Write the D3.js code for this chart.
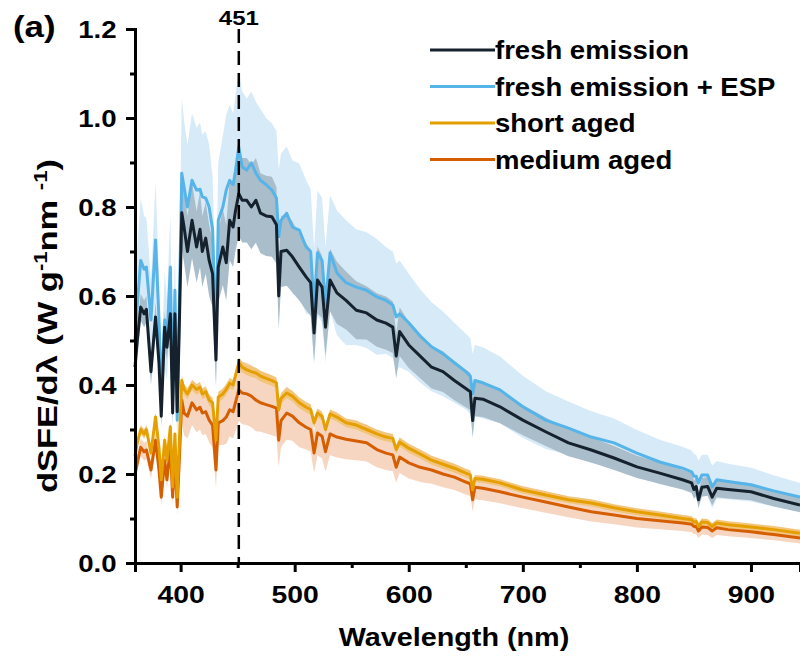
<!DOCTYPE html>
<html>
<head>
<meta charset="utf-8">
<script src="https://cdn.jsdelivr.net/npm/d3@7"></script>
<style>
  body { margin: 0; background: #fff; }
  svg text { font-family: "Liberation Sans", Arial, sans-serif; font-weight: bold; fill: #000; }
</style>
</head>
<body>
<div id="chart"></div>
<script>
// wavelength grid (nm)
var wavelengths = [360,362,365,368,370,374,378,381,383,386,388,391,393,395,397,399,401,403,406,410,
    414,417,419,422,425,428,431,433,437,440,443,446,448,451,454,458,462,466,470,475,
    480,484,486,488,493,498,504,510,514,517,520,524,527,531,537,545,554,563,572,580,
    586,589,592,600,610,620,630,640,650,654,656,658,665,680,700,720,740,760,780,800,
    820,840,848,850,852,854,857,862,866,870,880,900,920,943];

// fresh emission
var freshMean = [0.44,0.50,0.575,0.56,0.57,0.43,0.553,0.45,0.33,0.53,
    0.485,0.56,0.337,0.56,0.34,0.55,0.787,0.755,0.70,0.77,
    0.71,0.75,0.70,0.73,0.68,0.65,0.456,0.665,0.71,0.675,
    0.77,0.755,0.79,0.83,0.815,0.815,0.80,0.815,0.786,0.78,
    0.778,0.76,0.60,0.70,0.703,0.688,0.665,0.643,0.63,0.517,
    0.636,0.62,0.53,0.636,0.607,0.59,0.568,0.562,0.546,0.539,
    0.53,0.465,0.52,0.49,0.465,0.44,0.43,0.41,0.392,0.385,
    0.32,0.37,0.368,0.351,0.321,0.295,0.27,0.254,0.236,0.216,
    0.202,0.187,0.18,0.165,0.172,0.142,0.17,0.172,0.148,0.168,
    0.165,0.16,0.145,0.13];
var freshSd = [0.03,0.03,0.03,0.03,0.03,0.03,0.035,0.03,0.025,0.035,
    0.03,0.035,0.025,0.035,0.025,0.04,0.08,0.08,0.08,0.085,
    0.08,0.085,0.08,0.08,0.08,0.075,0.06,0.08,0.085,0.085,
    0.09,0.09,0.09,0.095,0.095,0.095,0.095,0.095,0.09,0.09,
    0.09,0.085,0.075,0.08,0.08,0.08,0.075,0.075,0.075,0.065,
    0.075,0.07,0.065,0.07,0.07,0.065,0.065,0.06,0.06,0.06,
    0.058,0.05,0.055,0.052,0.05,0.048,0.046,0.044,0.042,0.042,
    0.038,0.04,0.04,0.037,0.034,0.032,0.03,0.028,0.027,0.025,
    0.024,0.022,0.022,0.02,0.021,0.019,0.021,0.021,0.019,0.02,
    0.02,0.019,0.018,0.016];

// fresh emission + ESP
var espMean = [0.50,0.58,0.68,0.66,0.665,0.546,0.726,0.55,0.382,0.546,
    0.50,0.665,0.366,0.613,0.321,0.60,0.876,0.845,0.80,0.86,
    0.838,0.84,0.823,0.82,0.80,0.75,0.50,0.77,0.80,0.838,
    0.86,0.85,0.88,0.935,0.89,0.883,0.899,0.876,0.86,0.85,
    0.838,0.82,0.733,0.77,0.786,0.755,0.748,0.71,0.70,0.575,
    0.697,0.68,0.58,0.697,0.652,0.63,0.62,0.613,0.598,0.59,
    0.58,0.553,0.56,0.54,0.51,0.486,0.47,0.45,0.43,0.42,
    0.38,0.41,0.405,0.389,0.351,0.321,0.303,0.283,0.27,0.247,
    0.227,0.213,0.205,0.195,0.195,0.18,0.198,0.198,0.171,0.187,
    0.183,0.176,0.162,0.148];
var espSd = [0.10,0.13,0.14,0.12,0.11,0.09,0.13,0.10,0.06,0.11,
    0.09,0.12,0.06,0.10,0.06,0.10,0.17,0.15,0.14,0.15,
    0.14,0.15,0.14,0.15,0.14,0.12,0.10,0.13,0.16,0.17,
    0.17,0.16,0.17,0.17,0.17,0.16,0.16,0.16,0.16,0.15,
    0.15,0.15,0.15,0.15,0.15,0.15,0.15,0.15,0.14,0.13,
    0.14,0.14,0.13,0.13,0.14,0.14,0.13,0.13,0.13,0.12,
    0.12,0.12,0.12,0.11,0.105,0.10,0.095,0.09,0.085,0.085,
    0.09,0.08,0.08,0.075,0.07,0.065,0.06,0.058,0.055,0.052,
    0.05,0.048,0.048,0.05,0.048,0.05,0.045,0.045,0.048,0.042,
    0.04,0.038,0.035,0.032];

// short aged
var shortMean = [0.24,0.27,0.30,0.29,0.30,0.247,0.328,0.26,0.187,0.276,
    0.231,0.306,0.171,0.29,0.148,0.28,0.41,0.39,0.38,0.40,
    0.39,0.395,0.38,0.385,0.366,0.36,0.276,0.373,0.38,0.39,
    0.404,0.40,0.42,0.45,0.44,0.434,0.43,0.427,0.42,0.415,
    0.41,0.405,0.344,0.37,0.382,0.375,0.36,0.35,0.345,0.315,
    0.337,0.33,0.30,0.335,0.328,0.315,0.31,0.30,0.29,0.283,
    0.28,0.255,0.272,0.258,0.245,0.231,0.222,0.213,0.202,0.198,
    0.164,0.19,0.188,0.18,0.164,0.153,0.142,0.135,0.124,0.115,
    0.108,0.10,0.097,0.092,0.093,0.082,0.092,0.091,0.082,0.09,
    0.086,0.081,0.075,0.067];
var shortSd = [0.01,0.01,0.01,0.01,0.01,0.01,0.01,0.01,0.01,0.01,
    0.01,0.01,0.01,0.01,0.01,0.01,0.012,0.012,0.012,0.012,
    0.012,0.012,0.012,0.012,0.012,0.012,0.012,0.012,0.012,0.012,
    0.012,0.012,0.012,0.012,0.012,0.012,0.012,0.012,0.012,0.012,
    0.012,0.012,0.012,0.012,0.012,0.012,0.012,0.012,0.012,0.012,
    0.01,0.01,0.01,0.01,0.01,0.01,0.01,0.01,0.01,0.01,
    0.01,0.01,0.01,0.01,0.01,0.01,0.01,0.01,0.01,0.01,
    0.008,0.008,0.008,0.008,0.008,0.008,0.008,0.008,0.008,0.008,
    0.008,0.008,0.008,0.008,0.008,0.008,0.008,0.008,0.008,0.008,
    0.008,0.008,0.008,0.008];

// medium aged
var mediumMean = [0.20,0.225,0.26,0.25,0.254,0.209,0.276,0.21,0.148,0.231,
    0.187,0.261,0.148,0.238,0.126,0.24,0.366,0.337,0.33,0.36,
    0.344,0.35,0.337,0.34,0.321,0.31,0.209,0.315,0.32,0.328,
    0.344,0.34,0.36,0.389,0.382,0.38,0.375,0.366,0.36,0.356,
    0.352,0.348,0.276,0.32,0.337,0.33,0.315,0.305,0.30,0.247,
    0.292,0.285,0.25,0.29,0.283,0.278,0.274,0.27,0.255,0.247,
    0.243,0.215,0.238,0.225,0.215,0.209,0.20,0.193,0.182,0.178,
    0.142,0.17,0.168,0.16,0.148,0.137,0.126,0.115,0.108,0.10,
    0.095,0.09,0.087,0.082,0.082,0.072,0.081,0.08,0.072,0.079,
    0.075,0.07,0.064,0.056];
var mediumSd = [0.02,0.02,0.02,0.02,0.02,0.02,0.02,0.02,0.02,0.02,
    0.02,0.02,0.02,0.02,0.02,0.03,0.05,0.05,0.05,0.05,
    0.05,0.05,0.05,0.05,0.05,0.05,0.04,0.05,0.055,0.06,
    0.06,0.06,0.065,0.07,0.07,0.07,0.07,0.07,0.065,0.065,
    0.065,0.065,0.06,0.06,0.06,0.055,0.055,0.05,0.05,0.045,
    0.05,0.05,0.045,0.048,0.046,0.045,0.043,0.042,0.04,0.038,
    0.037,0.034,0.036,0.035,0.033,0.031,0.03,0.029,0.028,0.028,
    0.026,0.027,0.027,0.026,0.025,0.024,0.023,0.022,0.021,0.02,
    0.019,0.018,0.018,0.017,0.017,0.016,0.017,0.017,0.016,0.016,
    0.015,0.014,0.013,0.012];

var xTicks = [400, 500, 600, 700, 800, 900];
var yTicks = [0, 0.2, 0.4, 0.6, 0.8, 1.0, 1.2];
var markLine = 451;

var series = [
    {name: 'fresh emission + ESP', mean: espMean, sd: espSd, line: '#56b4e9', band: '#d7eaf8'},
    {name: 'fresh emission', mean: freshMean, sd: freshSd, line: '#15222e', band: '#a9bdcb'},
    {name: 'medium aged', mean: mediumMean, sd: mediumSd, line: '#d55e00', band: '#f6d6c1'},
    {name: 'short aged', mean: shortMean, sd: shortSd, line: '#e69f00', band: '#f2c57a'}
];
var legendOrder = ['fresh emission', 'fresh emission + ESP', 'short aged', 'medium aged'];

var width = 800, height = 658;
var svg = d3.select('#chart').append('svg')
    .attr('width', width)
    .attr('height', height);

var x = d3.scaleLinear().domain([360, 943]).range([135, 800]);
var y = d3.scaleLinear().domain([0, 1.2]).range([563, 29]);

var plot = svg.append('g');

series.forEach(function(s) {
    var pts = wavelengths.map(function(w, i) {
        return {w: w, m: s.mean[i], sd: s.sd[i]};
    });
    s.pts = pts;
    var area = d3.area()
        .x(function(d) { return x(d.w); })
        .y0(function(d) { return y(d.m - d.sd); })
        .y1(function(d) { return y(d.m + d.sd); });
    plot.append('path')
        .datum(pts)
        .attr('d', area)
        .style('fill', s.band)
        .style('stroke', 'none');
});

series.forEach(function(s) {
    var line = d3.line()
        .x(function(d) { return x(d.w); })
        .y(function(d) { return y(d.m); });
    plot.append('path')
        .datum(s.pts)
        .attr('d', line)
        .style('fill', 'none')
        .style('stroke', s.line)
        .style('stroke-width', 3)
        .style('stroke-linejoin', 'round');
});

// dashed marker
svg.append('line')
    .attr('x1', x(markLine)).attr('x2', x(markLine))
    .attr('y1', y(1.2)).attr('y2', y(0))
    .style('stroke', '#000')
    .style('stroke-width', 2.5)
    .style('stroke-dasharray', '14,8');
svg.append('text')
    .attr('transform', 'translate(' + x(markLine) + ',25) scale(1.2,1)')
    .attr('text-anchor', 'middle')
    .style('font-size', '20px')
    .text(markLine);

// axes
var xAxis = svg.append('g')
    .attr('transform', 'translate(0,' + y(0) + ')')
    .call(d3.axisBottom(x).tickValues(xTicks).tickSize(9).tickPadding(14).tickFormat(d3.format('d')));
svg.append('g')
    .attr('transform', 'translate(0,' + y(0) + ')')
    .call(d3.axisBottom(x).tickValues([450, 550, 650, 750, 850]).tickSize(5).tickFormat(''));
var yAxis = svg.append('g')
    .attr('transform', 'translate(' + x(360) + ',0)')
    .call(d3.axisLeft(y).tickValues(yTicks).tickSize(9).tickPadding(7).tickFormat(d3.format('.1f')));
svg.append('g')
    .attr('transform', 'translate(' + x(360) + ',0)')
    .call(d3.axisLeft(y).tickValues([0.1, 0.3, 0.5, 0.7, 0.9, 1.1]).tickSize(5).tickFormat(''));

svg.selectAll('.domain').style('stroke', '#000').style('stroke-width', 3);
svg.selectAll('.tick line').style('stroke', '#000').style('stroke-width', 3);
svg.selectAll('.tick text').style('font-size', '24px');
xAxis.selectAll('.tick text').attr('transform', 'scale(1.18,1)');
yAxis.selectAll('.tick text').attr('transform', 'scale(1.15,1)').attr('dy', '0.36em');
svg.selectAll('.domain').attr('d', function() {
    return d3.select(this).attr('d').replace(/V6|V-6|H-6|H6/g, '');
});

// axis titles
svg.append('text')
    .attr('transform', 'translate(454,646) scale(1.15,1)')
    .attr('text-anchor', 'middle')
    .style('font-size', '25px')
    .text('Wavelength (nm)');

var yl = svg.append('text')
    .attr('transform', 'translate(57,326) rotate(-90) scale(1.23,1)')
    .attr('text-anchor', 'middle')
    .style('font-size', '28px');
yl.append('tspan').text('dSFE/d\u03bb (W g');
yl.append('tspan').attr('dy', -10).style('font-size', '18px').text('-1');
yl.append('tspan').attr('dy', 10).text('nm ');
yl.append('tspan').attr('dy', -10).style('font-size', '18px').text('-1');
yl.append('tspan').attr('dy', 10).text(')');

svg.append('text')
    .attr('transform', 'translate(13,37) scale(1.2,1)')
    .style('font-size', '29px')
    .text('(a)');

// legend
var legend = svg.append('g');
legendOrder.forEach(function(name, i) {
    var s = series.filter(function(d) { return d.name === name; })[0];
    var ly = 50 + i * 36.5;
    legend.append('line')
        .attr('x1', 430).attr('x2', 495)
        .attr('y1', ly).attr('y2', ly)
        .style('stroke', s.line)
        .style('stroke-width', 3);
    legend.append('text')
        .attr('transform', 'translate(495,' + (ly + 9) + ') scale(1.1,1)')
        .style('font-size', '25px')
        .text(name);
});
</script>
</body>
</html>
